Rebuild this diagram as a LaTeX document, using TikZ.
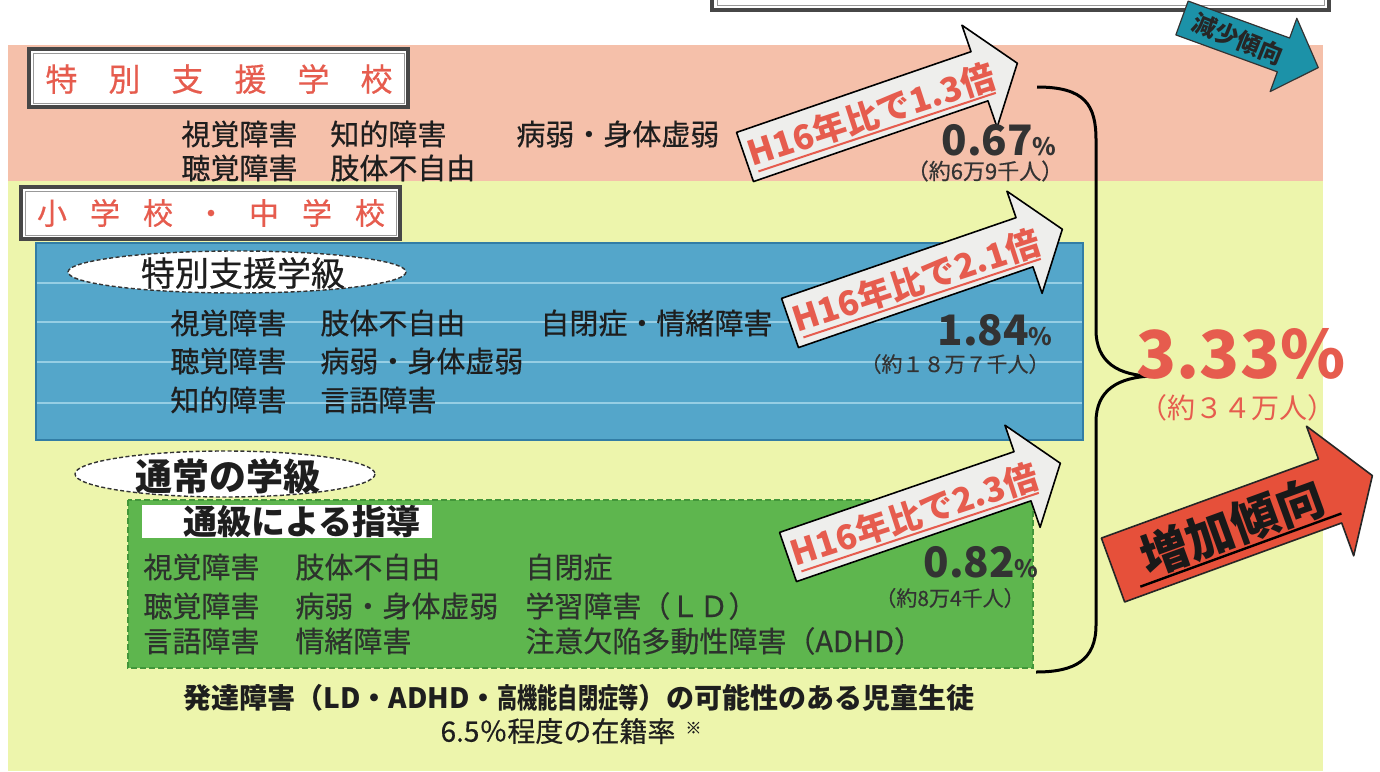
\documentclass[tikz,border=0pt]{standalone}
\usepackage{fontspec}
\setmainfont{Noto Sans CJK JP}
\newfontfamily\medf{Noto Sans CJK JP}[FakeBold=0.5]
\usetikzlibrary{shapes.geometric}
\definecolor{pinkb}{RGB}{245,192,170}
\definecolor{yel}{RGB}{237,245,172}
\definecolor{blueb}{RGB}{84,166,202}
\definecolor{bluest}{RGB}{150,206,228}
\definecolor{blueln}{RGB}{50,125,165}
\definecolor{greenb}{RGB}{94,182,78}
\definecolor{greenln}{RGB}{66,150,58}
\definecolor{redt}{RGB}{230,92,78}
\definecolor{redarrow}{RGB}{230,80,58}
\definecolor{tealarrow}{RGB}{28,146,168}
\definecolor{arrowfill}{RGB}{238,238,236}
\definecolor{txt}{RGB}{30,30,30}
\definecolor{txtg}{RGB}{45,50,45}
\newcommand{\fs}[1]{\fontsize{#1}{#1}\selectfont}
\begin{document}
\begin{tikzpicture}[x=0.5pt,y=-0.5pt,
  body/.style={anchor=west,inner sep=0pt,font=\medf\fs{14.5},text=txt},
  bodyg/.style={anchor=west,inner sep=0pt,font=\medf\fs{14.5},text=txtg},
  ttl/.style={inner sep=0pt,text=redt},
  tbox/.style={fill=white,draw=black!72,line width=2pt},
  tboxin/.style={draw=black!40,line width=0.5pt},
  warrow/.style={fill=arrowfill,draw=black,line width=0.8pt,line join=round},
  atext/.style={inner sep=0pt,text=redt,font=\fs{17}\bfseries},
  aline/.style={draw=redt,line width=1pt},
  pct/.style={anchor=base east,inner sep=0pt,text=black!80,font=\fs{21}\bfseries},
  ppl/.style={inner sep=0pt,text=black!80,font=\medf\fs{10.5}},
  ell/.style={fill=white,draw=black!80,line width=0.7pt,dash pattern=on 2pt off 1.2pt}
]
\fill[white] (0,0) rectangle (1380,771);
\useasboundingbox (0,0) rectangle (1380,771);
% bands
\fill[yel] (8,180) rectangle (1323,771);
\fill[pinkb] (8,45) rectangle (1323,181);
% top box
\draw[tbox] (712,-30) rectangle (1329,10);
\draw[tboxin] (717,-30) rectangle (1324,5);
% teal arrow
\begin{scope}[shift={(1182,18)},rotate=-20]
  \draw[fill=tealarrow,draw=black!80,line width=0.6pt,line join=round]
    (0,-18) -- (108,-18) -- (108,-39) -- (145,0) -- (108,39) -- (108,18) -- (0,18) -- cycle;
  \node[rotate=-22,inner sep=0pt,font=\fs{12}\bfseries,text=black!85] (gen) at (60,1) {減少傾向};
\end{scope}
% title 1
\draw[tbox] (29,49) rectangle (408,107);
\draw[tboxin] (33,53) rectangle (404,103);
\node[ttl,font=\medf\fs{16}] (t1) at (219,79) {特\hspace{15.5pt}別\hspace{15.5pt}支\hspace{15.5pt}援\hspace{15.5pt}学\hspace{15.5pt}校};
% pink texts
\node[body] (p11) at (181,134) {視覚障害};
\node[body] (p12) at (330,134) {知的障害};
\node[body] (p13) at (516,134) {病弱・身体虚弱};
\node[body] (p21) at (181,168) {聴覚障害};
\node[body] (p22) at (330,168) {肢体不自由};
% title 2
\draw[tbox] (21,187) rectangle (400,239);
\draw[tboxin] (25,191) rectangle (396,235);
\node[ttl,font=\medf\fs{15}] (t2) at (211,213) {小\hspace{11.5pt}学\hspace{11.5pt}校\hspace{11.5pt}・\hspace{11.5pt}中\hspace{11.5pt}学\hspace{11.5pt}校};
% blue box
\fill[blueb] (36,243) rectangle (1083,440);
\foreach \yy in {283,322,362,403}{\draw[bluest,line width=1.2pt] (37,\yy) -- (1082,\yy);}
\draw[blueln,line width=1pt] (36,243) rectangle (1083,440);
\draw[ell] (237,272) ellipse [x radius=169, y radius=21];
\node[inner sep=0pt,font=\medf\fs{17},text=txt] (tk) at (243,273) {特別支援学級};
\node[body] (b11) at (170,323) {視覚障害};
\node[body] (b12) at (320,323) {肢体不自由};
\node[body] (b13) at (540,323) {自閉症・情緒障害};
\node[body] (b21) at (170,361) {聴覚障害};
\node[body] (b22) at (320,361) {病弱・身体虚弱};
\node[body] (b31) at (170,400) {知的障害};
\node[body] (b32) at (320,400) {言語障害};
% green box
\fill[greenb] (128,500) rectangle (1033,668);
\draw[greenln,line width=1.2pt,dash pattern=on 3pt off 1.5pt] (128,500) rectangle (1033,668);
\draw[ell] (225,474) ellipse [x radius=150, y radius=23];
\node[inner sep=0pt,font=\fs{18.5}\bfseries,text=txt] (ts) at (228,476) {通常の学級};
\fill[white] (142,505) rectangle (432,538);
\node[inner sep=0pt,font=\fs{17}\bfseries,text=txt] (tq) at (302,522) {通級による指導};
\node[bodyg] (g11) at (143,567) {視覚障害};
\node[bodyg] (g12) at (295,567) {肢体不自由};
\node[bodyg] (g13) at (525,567) {自閉症};
\node[bodyg] (g21) at (143,606) {聴覚障害};
\node[bodyg] (g22) at (295,606) {病弱・身体虚弱};
\node[bodyg] (g23) at (525,606) {学習障害（ＬＤ）};
\node[bodyg] (g31) at (143,641) {言語障害};
\node[bodyg] (g32) at (295,641) {情緒障害};
\node[bodyg] (g33) at (525,641) {注意欠陥多動性障害（ADHD）};
% bottom note
\node[inner sep=0pt,font=\fs{14}\bfseries,text=txt] (n1) at (579,698) {発達障害（LD・ADHD・\scalebox{0.72}[1]{高機能自閉症等}）の可能性のある児童生徒};
\node[inner sep=0pt,font=\medf\fs{14},text=txt] (n2) at (571,731) {6.5％程度の在籍率\hspace{5pt}\raisebox{4pt}{\fs{8}※}};
% white arrows
\begin{scope}[shift={(745,157)},rotate=19]
  \draw[warrow] (0,-26) -- (248,-26) -- (248,-54) -- (288,0) -- (248,54) -- (248,26) -- (0,26) -- cycle;
  \node[atext,rotate=18] (a1) at (133,1) {H16年比で1.3倍};
  \draw[aline] (8,18) -- (258,21);
\end{scope}
\begin{scope}[shift={(790,323)},rotate=19]
  \draw[warrow] (0,-26) -- (248,-26) -- (248,-54) -- (288,0) -- (248,54) -- (248,26) -- (0,26) -- cycle;
  \node[atext,rotate=18] (a2) at (133,1) {H16年比で2.1倍};
  \draw[aline] (8,18) -- (258,21);
\end{scope}
\begin{scope}[shift={(788,557)},rotate=19]
  \draw[warrow] (0,-26) -- (248,-26) -- (248,-54) -- (288,0) -- (248,54) -- (248,26) -- (0,26) -- cycle;
  \node[atext,rotate=18] (a3) at (133,1) {H16年比で2.3倍};
  \draw[aline] (8,18) -- (258,21);
\end{scope}
% percentages
\node[pct] (v1) at (1057,155) {0.67{\fs{12}\%}};
\node[ppl,font=\medf\fs{11}] (c1) at (985,171) {（約6万9千人）};
\node[pct] (v2) at (1053,345) {1.84{\fs{12}\%}};
\node[ppl] (c2) at (955,364) {（約１８万７千人）};
\node[pct] (v3) at (1039,577) {0.82{\fs{12}\%}};
\node[ppl] (c3) at (950,598) {（約8万4千人）};
% brace
\coordinate (bt) at (1037,87);
\coordinate (bc) at (1153,376);
\coordinate (bb) at (1036,672);
\draw[black,line width=1.5pt] (bt) .. controls (1085,87) and (1096,105) .. (1096,140) -- (1096,330)
  .. controls (1096,362) and (1118,376) .. (bc)
  .. controls (1118,377) and (1096,390) .. (1096,422) -- (1096,625)
  .. controls (1096,660) and (1075,672) .. (bb);
% total
\node[anchor=base,inner sep=0pt,text=redt,font=\fs{33}\bfseries] (tot) at (1241,378) {3.33\%};
\node[inner sep=0pt,text=redt,font=\fs{14}] (totc) at (1237,408) {（約３４万人）};
% red arrow
\begin{scope}[shift={(1113,570)},rotate=20]
  \draw[fill=redarrow,draw=black!85,line width=0.8pt,line join=round]
    (0,-34) -- (231,-34) -- (231,-69) -- (276,0) -- (231,69) -- (231,34) -- (0,34) -- cycle;
  \node[rotate=20,inner sep=0pt,font=\fs{24}\bfseries,text=black!90] (inc) at (127,0) {増加傾向};
  \draw[black,line width=1.2pt] (20,25) -- (234,25);
\end{scope}
\end{tikzpicture}
\end{document}
